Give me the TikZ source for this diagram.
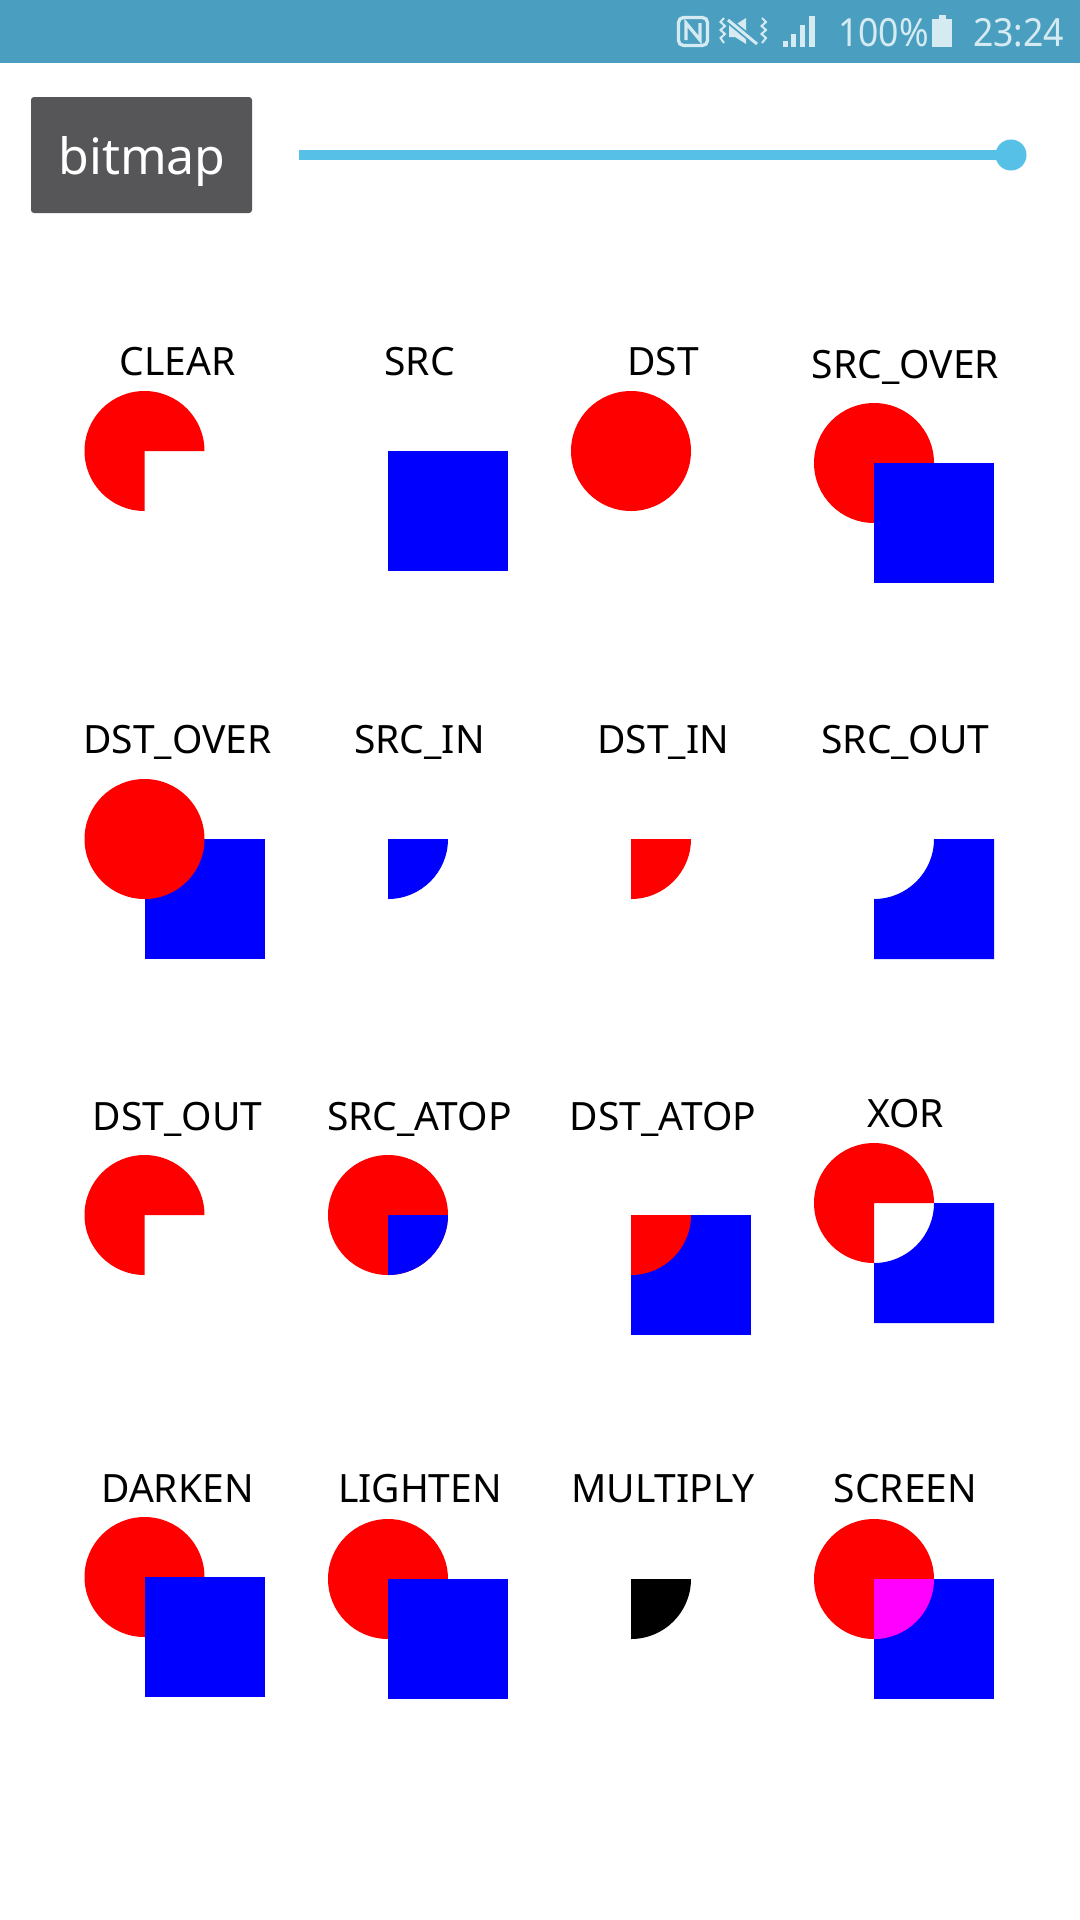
\documentclass[tikz,border=0pt]{standalone}
\usepackage{fontspec}
\setmainfont{Noto Sans}
\usepackage{tikz}
\usetikzlibrary{arrows}

\definecolor{barblue}{RGB}{74,159,192}
\definecolor{iconwhite}{RGB}{214,234,242}
\definecolor{btngray}{RGB}{86,86,88}
\definecolor{slider}{RGB}{87,192,230}
\definecolor{screenpink}{RGB}{255,0,255}
\definecolor{purered}{RGB}{255,0,0}
\definecolor{pureblue}{RGB}{0,0,255}

\tikzset{
  modename/.style={anchor=base, font=\fontsize{15.6}{18}\selectfont},
  statustext/.style={anchor=base west, text=iconwhite, xscale=0.92, font=\fontsize{15.5}{18}\selectfont},
  srcfill/.style={fill=pureblue},
  dstfill/.style={fill=purered}
}

\begin{document}
\begin{tikzpicture}[x=0.4pt,y=-0.4pt]
\useasboundingbox [fill=white] (0,0) rectangle (1080,1920);

% status bar
\fill [barblue] (0,0) rectangle (1080,63);
\draw [iconwhite, line width=1.3pt, rounded corners=2pt] (678.5,17.5) rectangle (707.5,45.5);
\draw [iconwhite, line width=1.3pt] (686,40) -- (686,23) -- (700,40) -- (700,23);
\draw [iconwhite, line width=0.8pt] (724,18) -- (720.5,22) -- (725,26) -- (720.5,30) -- (725,34) -- (720.5,38) -- (724,43);
\draw [iconwhite, line width=0.8pt] (762,18) -- (766,22) -- (761.5,26) -- (766,30) -- (761.5,34) -- (766,38) -- (762,43);
\fill [iconwhite] (729,25) -- (735,25) -- (746,18) -- (746,44) -- (735,37) -- (729,37) -- cycle;
\draw [barblue, line width=2.6pt] (728,20) -- (757,44);
\draw [iconwhite, line width=1.2pt] (728,20) -- (757,44);
\fill [iconwhite] (783,41) rectangle (788,47);
\fill [iconwhite] (791,34) rectangle (796,47);
\fill [iconwhite] (800,25) rectangle (805,47);
\fill [iconwhite] (809,16) rectangle (815,47);
\node (pct) [statustext] at (830,46.7) {100\%};
\fill [iconwhite] (932,19) rectangle (952,46.7); \fill [iconwhite] (939,15) rectangle (946,19);
\node (clock) [statustext] at (965,46.7) {23:24};

% button and seek bar
\fill [btngray, rounded corners=1.2pt] (31,97) rectangle (252,213);
\node (bitmap) [anchor=base, text=white, font=\fontsize{20}{24}\selectfont] at (142,174.3) {bitmap};
\coordinate (trackstart) at (299,155);
\coordinate (thumb) at (1011,155);
\draw [slider, line width=4pt] (trackstart) -- (thumb);
\fill [slider] (thumb) circle [radius=15.5];

% row 1
\node (clear) [modename] at (177.5,375) {CLEAR};
\fill [dstfill, shift={(144.5,451)}] (0,0) -- (0,60) arc [start angle=90, end angle=360, radius=60] -- cycle;

\node (src) [modename] at (419.5,375) {SRC};
\fill [srcfill] (388,451) rectangle (508,571);

\node (dst) [modename] at (663,375) {DST};
\fill [dstfill] (631,451) circle [radius=60];

\node (srcover) [modename] at (905.5,378) {SRC\_OVER};
\fill [dstfill] (874,463) circle [radius=60];
\fill [srcfill] (874,463) rectangle (994,583);

% row 2
\node (dstover) [modename] at (177.5,753) {DST\_OVER};
\fill [srcfill] (144.5,839) rectangle (264.5,959);
\fill [dstfill] (144.5,839) circle [radius=60];

\node (srcin) [modename] at (419.5,753) {SRC\_IN};
\fill [srcfill, shift={(388,839)}] (0,0) -- (60,0) arc [start angle=0, end angle=90, radius=60] -- cycle;

\node (dstin) [modename] at (663,753) {DST\_IN};
\fill [dstfill, shift={(631,839)}] (0,0) -- (60,0) arc [start angle=0, end angle=90, radius=60] -- cycle;

\node (srcout) [modename] at (905.5,753) {SRC\_OUT};
\fill [srcfill, shift={(874,839)}] (60,0) -- (120,0) -- (120,120) -- (0,120) -- (0,60) arc [start angle=90, end angle=0, radius=60] -- cycle;

% row 3
\node (dstout) [modename] at (177.5,1130) {DST\_OUT};
\fill [dstfill, shift={(144.5,1215)}] (0,0) -- (0,60) arc [start angle=90, end angle=360, radius=60] -- cycle;

\node (srcatop) [modename] at (419.5,1130) {SRC\_ATOP};
\fill [dstfill] (388,1215) circle [radius=60];
\fill [srcfill, shift={(388,1215)}] (0,0) -- (60,0) arc [start angle=0, end angle=90, radius=60] -- cycle;

\node (dstatop) [modename] at (663,1130) {DST\_ATOP};
\fill [srcfill] (631,1215) rectangle (751,1335);
\fill [dstfill, shift={(631,1215)}] (0,0) -- (60,0) arc [start angle=0, end angle=90, radius=60] -- cycle;

\node (xor) [modename] at (905.5,1127) {XOR};
\fill [dstfill, shift={(874,1203)}] (0,0) -- (0,60) arc [start angle=90, end angle=360, radius=60] -- cycle;
\fill [srcfill, shift={(874,1203)}] (60,0) -- (120,0) -- (120,120) -- (0,120) -- (0,60) arc [start angle=90, end angle=0, radius=60] -- cycle;

% row 4
\node (darken) [modename] at (177.5,1502.5) {DARKEN};
\fill [dstfill] (144.5,1577) circle [radius=60];
\fill [srcfill] (144.5,1577) rectangle (264.5,1697);

\node (lighten) [modename] at (420,1502.5) {LIGHTEN};
\fill [dstfill] (388,1579) circle [radius=60];
\fill [srcfill] (388,1579) rectangle (508,1699);

\node (multiply) [modename] at (663,1502.5) {MULTIPLY};
\fill [black, shift={(631,1579)}] (0,0) -- (60,0) arc [start angle=0, end angle=90, radius=60] -- cycle;

\node (screen) [modename] at (905.5,1502.5) {SCREEN};
\fill [dstfill] (874,1579) circle [radius=60];
\fill [srcfill] (874,1579) rectangle (994,1699);
\fill [screenpink, shift={(874,1579)}] (0,0) -- (60,0) arc [start angle=0, end angle=90, radius=60] -- cycle;

\end{tikzpicture}
\end{document}
